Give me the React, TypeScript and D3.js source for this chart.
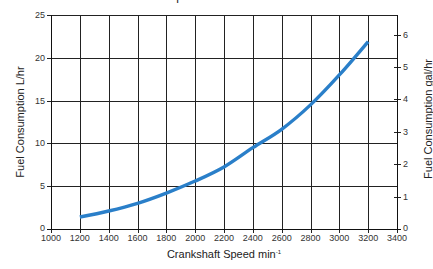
import React from "react";
import * as d3 from "d3";

const speeds = [1200, 1400, 1600, 1800, 2000, 2200, 2400, 2600, 2800, 3000, 3200];
const fuelLph = [1.4, 2.1, 3.0, 4.2, 5.6, 7.25, 9.5, 11.65, 14.5, 18.0, 21.9];
const xTicks = [1000, 1200, 1400, 1600, 1800, 2000, 2200, 2400, 2600, 2800, 3000, 3200, 3400];
const yTicksL = [0, 5, 10, 15, 20, 25];
const yTicksGal = [0, 1, 2, 3, 4, 5, 6];
const LITERS_PER_GAL = 3.785;

const W = 433, H = 269;
const M = { left: 51, right: 397, top: 15, bottom: 229 };
const FONT = "'Liberation Sans', Arial, Helvetica, sans-serif";

export default function App() {
  const x = d3.scaleLinear().domain([1000, 3400]).range([M.left, M.right]);
  const y = d3.scaleLinear().domain([0, 25]).range([M.bottom, M.top]);
  const yGal = d3.scaleLinear().domain([0, 25 / LITERS_PER_GAL]).range([M.bottom, M.top]);
  const line = d3.line<number>().x((_, i) => x(speeds[i])).y((d) => y(d)).curve(d3.curveMonotoneX);
  const px = (v: number) => Math.round(v) + 0.5;

  return (
    <svg width={W} height={H} style={{ position: "absolute", left: 0, top: 0, background: "#fff" }}>
      <text x={105} y={-0.5} fontFamily={FONT} fontSize={12} fill="#222">Fuel Consumption</text>
      {/* vertical gridlines */}
      {xTicks.map((t) => (
        <line key={"gx" + t} x1={px(x(t))} x2={px(x(t))} y1={M.top} y2={M.bottom + 4} stroke="#222" strokeWidth={1} />
      ))}
      {/* horizontal gridlines */}
      {yTicksL.map((t) => (
        <line key={"gy" + t} x1={M.left - 4} x2={M.right} y1={px(y(t))} y2={px(y(t))} stroke="#222" strokeWidth={1} />
      ))}
      {/* right axis ticks */}
      {yTicksGal.map((t) => (
        <line key={"gt" + t} x1={M.right - 3} x2={M.right + 4} y1={px(yGal(t))} y2={px(yGal(t))} stroke="#222" strokeWidth={1} />
      ))}
      {/* axes */}
      <line x1={px(M.left)} x2={px(M.left)} y1={M.top} y2={M.bottom + 1} stroke="#111" />
      <line x1={px(M.right)} x2={px(M.right)} y1={M.top} y2={M.bottom + 1} stroke="#111" />
      <line x1={M.left - 4} x2={M.right + 4} y1={px(M.bottom)} y2={px(M.bottom)} stroke="#111" />

      {/* data line */}
      <path d={line(fuelLph) || ""} fill="none" stroke="#2a7fc9" strokeWidth={3.4} strokeLinecap="butt" />

      {/* x tick labels */}
      {xTicks.map((t) => (
        <text key={"xl" + t} x={x(t)} y={241} textAnchor="middle" fontFamily={FONT} fontSize={9} fill="#333">{t}</text>
      ))}
      {/* left tick labels */}
      {yTicksL.map((t) => (
        <text key={"yl" + t} x={M.left - 6} y={y(t) + (t === 0 ? 2 : 3)} textAnchor="end" fontFamily={FONT} fontSize={9} fill="#333">{t}</text>
      ))}
      {/* right tick labels */}
      {yTicksGal.map((t) => (
        <text key={"yr" + t} x={M.right + 6} y={yGal(t) + (t === 0 ? 2 : 3)} textAnchor="start" fontFamily={FONT} fontSize={9} fill="#333">{t}</text>
      ))}

      {/* axis titles */}
      <text x={(M.left + M.right) / 2} y={258} textAnchor="middle" fontFamily={FONT} fontSize={11} fill="#222">
        Crankshaft Speed min<tspan fontSize={6} dy={-4}>-1</tspan>
      </text>
      <text transform={`translate(24,${(M.top + M.bottom) / 2}) rotate(-90)`} textAnchor="middle" fontFamily={FONT} fontSize={11} fill="#222">
        Fuel Consumption L/hr
      </text>
      <text transform={`translate(432,${(M.top + M.bottom) / 2 - 3}) rotate(-90)`} textAnchor="middle" fontFamily={FONT} fontSize={11} fill="#222">
        Fuel Consumption gal/hr
      </text>
    </svg>
  );
}
